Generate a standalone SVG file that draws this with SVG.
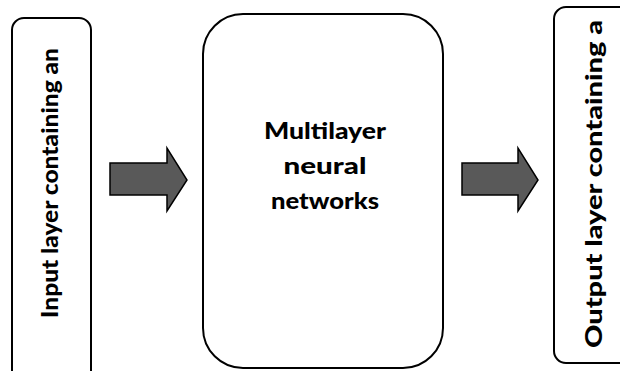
<svg xmlns="http://www.w3.org/2000/svg" width="620" height="371" viewBox="0 0 620 371">
<style>
.box{fill:#fff;stroke:#000;stroke-width:2}
.lbl{font-family:"Lato","Open Sans","Liberation Sans",sans-serif;font-weight:900;font-size:22px;fill:#000}
.arr{fill:#595959;stroke:#000;stroke-width:1.5;stroke-linejoin:miter}
</style>
<rect width="620" height="371" fill="#fff"/>
<g id="input">
<rect class="box" x="12" y="18" width="79" height="370" rx="12"/>
<text class="lbl" transform="translate(58,183) rotate(-90)" text-anchor="middle" textLength="270" lengthAdjust="spacingAndGlyphs">Input layer containing an</text>
</g>
<g id="mlp">
<rect class="box" x="203" y="14" width="240" height="354" rx="40"/>
<text class="lbl" x="325" y="139" text-anchor="middle" textLength="122" lengthAdjust="spacingAndGlyphs">Multilayer</text>
<text class="lbl" x="325" y="174" text-anchor="middle" textLength="83" lengthAdjust="spacingAndGlyphs">neural</text>
<text class="lbl" x="325" y="209" text-anchor="middle" textLength="108" lengthAdjust="spacingAndGlyphs">networks</text>
</g>
<g id="output">
<rect class="box" x="554" y="7" width="90" height="356" rx="12"/>
<text class="lbl" transform="translate(602,184) rotate(-90)" text-anchor="middle" textLength="328" lengthAdjust="spacingAndGlyphs">Output layer containing a</text>
</g>
<g id="connectors">
<polygon class="arr" points="110,163 167,163 167,148 187,180 167,211 167,195 110,195"/>
<polygon class="arr" points="462,163 518,163 518,148 538,180 518,211 518,195 462,195"/>
</g>
</svg>
